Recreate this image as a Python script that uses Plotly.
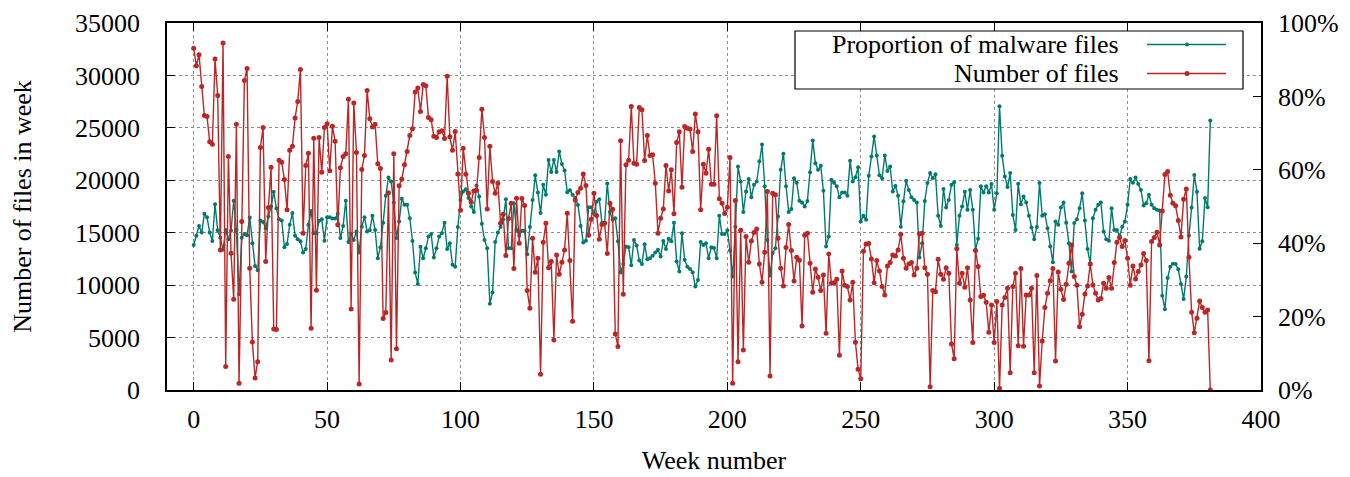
import plotly.graph_objects as go

# ---------------- data ----------------
weeks = list(range(0, 382))

number_of_files = [
    32600, 30920, 31970, 28950, 26180, 26080, 23670, 23440, 31560, 28090,
    13360, 33100, 2230, 22270, 13040, 8650, 25350, 640, 16060, 29520,
    30660, 11610, 4580, 1150, 2700, 23130, 25030, 12250, 17400, 21250,
    5820, 5760, 21920, 21730, 20070, 17180, 22870, 23250, 25930, 27520,
    30570, 14950, 21410, 22590, 5880, 24020, 9510, 24080, 20770, 25030,
    25380, 20900, 25160, 23730, 15750, 21190, 22270, 22520, 27740, 7730,
    27360, 22650, 570, 21030, 22360, 28570, 25860, 25070, 25350, 21570,
    21120, 6810, 7380, 18800, 2860, 22520, 3940, 19470, 20100, 21470,
    22740, 24270, 24910, 28410, 28790, 26560, 29140, 29010, 25990, 25770,
    24210, 24080, 24620, 24720, 23980, 29930, 24140, 22870, 24650, 20610,
    17150, 23060, 20580, 18770, 17910, 18990, 19050, 22170, 26780, 24080,
    17270, 23250, 19880, 18770, 19720, 15900, 16760, 12820, 16350, 17810,
    11580, 18290, 14000, 18260, 17590, 9480, 7790, 14470, 11230, 12560,
    1500, 14090, 15900, 11670, 12250, 4770, 12880, 11040, 12180, 13360,
    16860, 12340, 6550, 18130, 18830, 19250, 20610, 19500, 14760, 16290,
    18770, 16640, 14380, 15780, 15900, 13010, 17810, 17240, 5340, 4140,
    23760, 9130, 21470, 21920, 27040, 21630, 21540, 26940, 26720, 21890,
    24270, 22360, 22430, 19720, 14950, 16380, 17270, 21410, 18990, 21000,
    16800, 23600, 24620, 19340, 25130, 24970, 24880, 22740, 26310, 24620,
    17180, 21540, 20680, 22970, 19630, 19630, 26150, 18230, 17810, 16830,
    17430, 22170, 640, 18070, 2700, 15240, 3820, 14630, 12180, 14220,
    15010, 15360, 12020, 10270, 13140, 18930, 1340, 18770, 18610, 14470,
    11610, 9920, 13580, 15780, 13300, 10400, 12660, 12370, 6110, 14760,
    14950, 12090, 9320, 11550, 10750, 9480, 10970, 5410, 12980, 10180,
    10240, 10560, 3310, 11360, 9990, 9860, 8590, 10270, 4550, 1970,
    1080, 13230, 13930, 13960, 12500, 10240, 12340, 11360, 9860, 9070,
    11830, 12150, 12880, 12790, 13360, 14860, 12560, 11610, 12020, 12150,
    10970, 11610, 14890, 14950, 11670, 11040, 320, 9480, 9380, 12470,
    11040, 10560, 11670, 11130, 4390, 2990, 13460, 10180, 11130, 9800,
    11670, 8590, 4520, 13300, 11770, 8910, 9030, 8370, 5500, 8110,
    4520, 8430, 160, 8110, 8810, 9700, 1650, 9860, 11130, 4230,
    11580, 4170, 9070, 9070, 9700, 1650, 10910, 380, 4680, 7860,
    9220, 10430, 11580, 2770, 11260, 9610, 8620, 10080, 12090, 13840,
    10820, 9990, 6040, 7220, 9160, 9920, 12020, 10020, 9220, 8590,
    8720, 10180, 9700, 10720, 9700, 12150, 14090, 14540, 13680, 14250,
    12560, 9990, 11830, 10590, 11290, 11930, 13010, 12340, 2800, 14160,
    14540, 15050, 13840, 17080, 20550, 20840, 18580, 17810, 17560, 16160,
    14600, 18200, 19180, 12660, 7410, 5470, 6840, 8490, 7860, 7410,
    7630, 0,
]

malware_proportion_pct = [
    39.5, 42.0, 44.7, 42.9, 48.0, 47.1, 42.9, 40.6, 50.6, 43.5,
    41.5, 38.2, 43.6, 41.1, 43.4, 51.6, 43.6, 26.1, 41.5, 42.5,
    42.2, 47.0, 40.0, 33.8, 32.6, 46.2, 45.8, 44.1, 47.3, 50.0,
    54.0, 49.5, 46.5, 46.2, 38.9, 39.8, 45.0, 48.2, 42.0, 41.1,
    40.5, 37.5, 38.4, 45.0, 48.8, 42.7, 42.7, 46.1, 46.5, 40.7,
    47.1, 47.1, 46.7, 46.7, 48.0, 41.4, 44.7, 51.6, 40.3, 42.5,
    40.9, 43.2, 37.5, 44.5, 47.1, 43.2, 43.5, 47.5, 43.6, 35.9,
    38.9, 45.6, 52.9, 57.9, 56.8, 51.1, 41.4, 45.9, 52.1, 50.5,
    50.5, 46.8, 40.6, 32.0, 28.9, 39.0, 35.9, 38.6, 41.8, 42.5,
    36.1, 38.6, 41.8, 42.7, 45.6, 38.4, 40.0, 34.1, 33.6, 44.4,
    51.8, 54.1, 54.7, 52.3, 50.0, 48.5, 55.7, 52.7, 45.3, 40.9,
    38.6, 23.5, 26.6, 40.3, 42.9, 44.4, 46.5, 52.0, 38.6, 38.6,
    50.9, 43.6, 42.0, 43.4, 43.4, 37.0, 44.4, 51.8, 58.5, 53.8,
    48.2, 55.9, 53.2, 62.7, 59.4, 62.7, 59.4, 65.0, 61.6, 59.8,
    53.9, 54.4, 53.2, 52.3, 50.4, 44.7, 40.2, 40.7, 49.8, 49.8,
    48.0, 51.3, 52.0, 45.5, 45.5, 56.3, 48.5, 46.4, 46.8, 40.5,
    32.0, 34.3, 39.1, 38.9, 34.0, 40.9, 39.4, 35.3, 34.3, 39.7,
    35.6, 35.9, 36.6, 37.5, 38.2, 36.4, 40.6, 38.4, 41.2, 40.5,
    45.6, 35.0, 32.3, 42.7, 35.5, 33.6, 33.0, 32.1, 28.2, 30.0,
    40.3, 39.5, 40.0, 35.9, 38.9, 38.7, 35.9, 47.5, 42.5, 42.5,
    43.5, 38.0, 30.9, 44.5, 60.9, 56.8, 48.5, 54.1, 57.5, 52.5,
    55.9, 56.8, 62.3, 66.9, 55.5, 40.9, 31.2, 37.3, 38.6, 47.3,
    60.0, 64.4, 55.5, 48.5, 49.3, 57.7, 56.5, 51.6, 51.1, 50.0,
    51.5, 59.3, 68.0, 61.8, 60.0, 61.1, 54.3, 39.1, 41.8, 57.3,
    56.5, 55.5, 52.5, 53.8, 53.8, 52.9, 62.5, 56.8, 58.0, 60.7,
    45.9, 47.5, 46.4, 58.4, 63.6, 69.1, 63.9, 58.5, 57.7, 63.9,
    59.7, 60.9, 54.1, 55.6, 52.9, 44.5, 51.4, 57.0, 54.5, 52.5,
    51.8, 51.1, 36.1, 40.0, 51.5, 56.4, 59.1, 57.7, 58.8, 47.5,
    44.7, 54.8, 49.7, 51.8, 55.9, 56.6, 39.5, 47.5, 50.0, 54.0,
    49.1, 54.5, 49.1, 38.2, 41.2, 55.5, 53.8, 55.5, 53.8, 56.1,
    49.1, 53.6, 77.3, 63.8, 58.2, 55.3, 59.1, 47.7, 43.6, 56.2,
    50.6, 52.7, 51.1, 47.5, 44.3, 41.1, 44.4, 56.4, 47.5, 47.9,
    44.1, 39.1, 34.8, 45.9, 45.0, 49.7, 51.1, 45.6, 40.0, 32.3,
    45.5, 46.5, 49.5, 53.6, 46.2, 38.4, 34.5, 46.8, 49.1, 50.5,
    51.1, 43.2, 41.1, 40.7, 49.5, 43.6, 43.6, 42.0, 44.5, 45.9,
    50.5, 57.5, 56.5, 57.9, 56.1, 54.5, 50.3, 50.9, 53.2, 50.5,
    49.5, 49.1, 48.9, 25.7, 22.0, 30.5, 33.6, 34.4, 34.3, 32.9,
    28.9, 24.8, 30.9, 42.1, 49.7, 58.6, 54.0, 38.5, 40.5, 52.3,
    49.8, 73.4,
]
malware_proportion = [v / 100.0 for v in malware_proportion_pct]

count_ticks = [0, 5000, 10000, 15000, 20000, 25000, 30000, 35000]
pct_ticks = [0, 0.2, 0.4, 0.6, 0.8, 1.0]
week_ticks = [0, 50, 100, 150, 200, 250, 300, 350, 400]

series_names = ["Proportion of malware files", "Number of files"]

# ---------------- style ----------------
TEAL = "#007a6c"
RED = "#bb2626"
FONT = "Liberation Serif"
FS = 26

OFF = 8                       # page body margin of the html page
W, H = 1350 - OFF, 477 - OFF  # figure size
PL, PR, PT, PB = 167, 1261, 23, 390  # plot area in window pixels


def px(xp):
    return (xp - PL) / (PR - PL)


def py(yp):
    return (PB - yp) / (PB - PT)


fig = go.Figure()

fig.add_trace(go.Scatter(
    x=weeks, y=malware_proportion, name=series_names[0], yaxis="y",
    mode="lines+markers", line=dict(color=TEAL, width=1.4),
    marker=dict(color=TEAL, size=4), showlegend=False,
))
fig.add_trace(go.Scatter(
    x=weeks, y=number_of_files, name=series_names[1], yaxis="y2",
    mode="lines+markers", line=dict(color=RED, width=1.4),
    marker=dict(color=RED, size=5), showlegend=False,
))

axis_common = dict(
    showline=True, linecolor="black", linewidth=1.5,
    ticks="inside", ticklen=8, tickcolor="black", tickwidth=1.2,
    zeroline=False,
    tickfont=dict(family=FONT, size=FS, color="black"),
)

fig.update_layout(
    width=W, height=H,
    margin=dict(l=PL - OFF, r=(OFF + W) - PR, t=PT - OFF, b=(OFF + H) - PB,
                autoexpand=False),
    paper_bgcolor="white", plot_bgcolor="white",
    font=dict(family=FONT, size=FS, color="black"),
    showlegend=False,
    xaxis=dict(
        range=[-10, 400], tickvals=week_ticks, mirror="ticks",
        showgrid=True, gridcolor="#8c8c8c", griddash="dot", gridwidth=1,
        title=dict(text="Week number", font=dict(family=FONT, size=FS), standoff=18),
        ticklabelstandoff=5,
        **axis_common,
    ),
    yaxis=dict(
        side="right", range=[0, 1], tickvals=pct_ticks, tickformat=".0%",
        showgrid=False, ticklabelstandoff=10,
        **axis_common,
    ),
    yaxis2=dict(
        overlaying="y", side="left", range=[0, 35000], tickvals=count_ticks,
        tickformat="d",
        showgrid=True, gridcolor="#8c8c8c", griddash="dot", gridwidth=1,
        title=dict(text="Number of files in week", font=dict(family=FONT, size=FS), standoff=44),
        ticklabelstandoff=20,
        **axis_common,
    ),
)

# ---------------- legend (drawn manually, gnuplot style) ----------------
lx0, lx1, ly0, ly1 = 795, 1243, 31, 89
fig.add_shape(type="rect", xref="paper", yref="paper",
              x0=px(lx0), x1=px(lx1), y0=py(ly1), y1=py(ly0),
              line=dict(color="black", width=1.2), fillcolor="white", layer="above")
rows = [(44.5, TEAL, 4), (73.5, RED, 5)]
for name, (yc, col, msz) in zip(series_names, rows):
    fig.add_annotation(xref="paper", yref="paper", x=px(1121), y=py(yc),
                       text=name, showarrow=False, xanchor="right", yanchor="middle",
                       font=dict(family=FONT, size=FS, color="black"))
    fig.add_shape(type="line", xref="paper", yref="paper",
                  x0=px(1147), x1=px(1226), y0=py(yc), y1=py(yc),
                  line=dict(color=col, width=1.4), layer="above")
    r = msz / 2
    fig.add_shape(type="circle", xref="paper", yref="paper",
                  x0=px(1187 - r), x1=px(1187 + r), y0=py(yc + r), y1=py(yc - r),
                  line=dict(color=col, width=0), fillcolor=col, layer="above")

fig.write_html("out.html")
